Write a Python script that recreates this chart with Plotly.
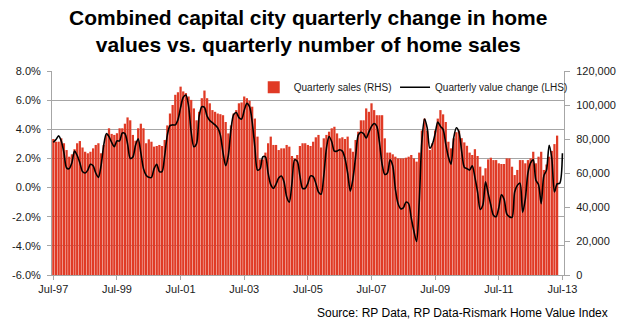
import plotly.graph_objects as go

# ---------------- data (monthly, Jul-97 .. Jul-13) ----------------
# Quarterly number of home sales (RHS), thousands
sales_k = [
    80, 78.4, 78.4, 80.4, 77.5, 73.5, 69.6, 71, 74, 77.5,
    78.8, 75, 72.5, 71.6, 72.5, 74.5, 76.5, 77.5, 71.6, 76.5,
    82.4, 86.3, 83, 82.4, 83.4, 86.3, 86.3, 89, 92.7, 91,
    82.4, 79, 86.3, 89, 86.3, 77.5, 79.8, 78.4, 75.5, 75.9,
    76.5, 75.9, 79.4, 88, 95, 100, 106, 107.5, 110.8, 108,
    107, 105, 103, 98, 91, 96, 104, 108.5, 104, 101,
    97, 96, 95, 94.6, 94, 90, 83.3, 88, 95, 97,
    101, 101.5, 105, 104, 102.5, 99, 92, 81.4, 68, 68,
    72, 77.5, 81.4, 76.5, 76.5, 73.5, 74.5, 74.5, 76.5, 75.5,
    70, 68.6, 70.6, 75.9, 77.5, 77.5, 76.5, 75.9, 78.4, 81,
    82.4, 75, 80.4, 82.4, 84.3, 86.3, 87.2, 83.3, 80.4, 81,
    80, 81.4, 74.5, 72.5, 79.4, 84.3, 91, 91, 98, 96,
    101, 97, 94, 94, 94, 80.4, 72, 72, 71, 69.6,
    68.6, 68.6, 68.6, 69, 69.6, 70.6, 68.6, 66.7, 72, 85,
    92, 85, 73.5, 77.5, 85, 92, 97, 94.5, 90, 78.4,
    74.5, 80.4, 84, 85, 80.5, 78, 76, 72, 70.6, 74,
    70, 63.7, 58.5, 62.8, 68, 69, 67.6, 67.6, 65.7, 65.3,
    65.3, 68.6, 68.6, 63.7, 58.8, 61.8, 67.6, 67.6, 65.7, 67.6,
    68.6, 72.5, 65.7, 69.6, 72.5, 61.8, 65, 69.6, 73, 77,
    82, None, None,
]

# Quarterly change in home values (LHS), percent
value_change = [
    3.1, 3.3, 3.55, 3.2, 2.4, 1.35, 1.3, 1.7, 2.5, 2.2,
    1.7, 1.1, 1.0, 1.2, 1.6, 1.5, 1.0, 0.7, 1.5, 2.9,
    3.7, 3.5, 3.1, 2.8, 3.2, 3.2, 3.75, 3.7, 3.0, 2.0,
    2.1, 2.9, 3.35, 2.4, 1.3, 0.85, 0.7, 0.7, 1.3, 1.6,
    1.1, 1.1, 2.2, 3.6, 4.25, 4.3, 4.3, 4.65, 5.5, 6.2,
    6.35, 5.6, 3.8, 2.8, 3.0, 4.9, 5.55, 5.5, 4.9, 4.6,
    4.45, 4.3, 4.1, 3.6, 2.4, 1.5, 2.2, 4.0, 5.0, 5.15,
    4.8, 4.7, 5.3, 5.78, 5.55, 4.5, 2.8, 1.2, 1.3, 2.1,
    2.1, 1.0, 0.2, -0.05, 0.24, 0.65, 0.79, 0.4, -0.63, -1.0,
    0.3, 1.9, 1.8, 0.8, -0.05, -0.05, 0.29, 0.8, 0.75, 0.3,
    -0.3, -0.45, 0.8, 2.69, 3.5, 3.15, 2.5, 2.5, 2.6, 2.5,
    2.0, 1.0, -0.25, 0.6, 2.1, 3.6, 3.8, 3.7, 3.4, 3.8,
    4.2, 4.4, 4.2, 3.1, 1.6, 0.9, 1.0, 1.9, 1.5, -0.1,
    -1.1, -1.45, -1.4, -1.0, -1.1, -2.1, -3.0, -3.7, -1.0, 3.2,
    4.7, 4.1, 2.7, 3.0, 3.7, 4.5, 4.2, 4.0, 3.0, 2.1,
    1.6, 3.4, 4.1, 3.8, 2.5, 1.4, 1.3, 1.2, 1.5, 0.7,
    -0.3, -1.5, -1.2, 0.4, -0.4, -1.2, -1.9, -2.0, -1.4, -0.5,
    -0.8, -1.8, -2.0, -2.05, -0.3, 0.15, 0.3, -1.7, -0.8, 1.0,
    1.7, 1.9, 0.5, 0.2, -1.1, 0.8, 1.2, 2.9, 2.0, -0.3,
    0.25, 0.3, 2.35,
]

month_index = list(range(len(value_change)))
sales = [None if v is None else v * 1000 for v in sales_k]

x_tick_vals = [0, 24, 48, 72, 96, 120, 144, 168, 192]
x_tick_text = ["Jul-97", "Jul-99", "Jul-01", "Jul-03", "Jul-05",
               "Jul-07", "Jul-09", "Jul-11", "Jul-13"]
left_tick_vals = [-6, -4, -2, 0, 2, 4, 6, 8]
left_tick_text = ["-6.0%", "-4.0%", "-2.0%", "0.0%", "2.0%", "4.0%", "6.0%", "8.0%"]
right_tick_vals = [0, 20000, 40000, 60000, 80000, 100000, 120000]

FONT = "Liberation Sans, Arial, sans-serif"
GRID = "#A6A6A6"

fig = go.Figure()
fig.add_trace(go.Bar(
    x=month_index, y=sales, name="Quarterly sales (RHS)",
    marker=dict(color="#E03A25", line=dict(width=0)),
    yaxis="y", legend="legend", showlegend=True,
))
fig.add_trace(go.Scatter(
    x=month_index, y=value_change, name="Quarterly value change (LHS)",
    mode="lines", line=dict(color="black", width=1.6, shape="spline", smoothing=0.8),
    yaxis="y2", legend="legend2", showlegend=True,
))

fig.update_layout(
    width=628, height=326,
    margin=dict(l=45, r=50, t=71, b=51),
    paper_bgcolor="white", plot_bgcolor="white",
    font=dict(family=FONT, size=11, color="#1a1a1a"),
    bargap=0.15,
    showlegend=True,
    xaxis=dict(
        range=[-0.5, 192.6], tickmode="array", tickvals=x_tick_vals, ticktext=x_tick_text,
        showgrid=False, showline=True, linecolor=GRID, linewidth=1, mirror=False,
        ticks="outside", ticklen=4, tickcolor=GRID, tickfont=dict(size=11, color="#1a1a1a"),
        zeroline=False,
    ),
    yaxis=dict(
        range=[0, 120000], side="right", tickmode="array", tickvals=right_tick_vals,
        tickformat=",d", showgrid=False, showline=True, linecolor=GRID, linewidth=1,
        ticks="outside", ticklen=5, tickcolor=GRID, ticklabelstandoff=4,
        tickfont=dict(size=11, color="#1a1a1a"), zeroline=False,
    ),
    yaxis2=dict(
        range=[-6, 8], overlaying="y", side="left", anchor="x",
        tickmode="array", tickvals=left_tick_vals, ticktext=left_tick_text,
        showgrid=True, gridcolor=GRID, gridwidth=1, showline=True, linecolor=GRID, linewidth=1,
        ticks="outside", ticklen=4, tickcolor=GRID, ticklabelstandoff=4,
        tickfont=dict(size=11, color="#1a1a1a"), zeroline=False,
    ),
    legend=dict(
        orientation="h", x=0.394, xanchor="left", y=0.92, yanchor="middle",
        bgcolor="rgba(255,255,255,0)", borderwidth=0, itemwidth=30,
        font=dict(family=FONT, size=10, color="#1a1a1a"), visible=True,
    ),
    legend2=dict(
        orientation="h", x=0.67, xanchor="left", y=0.92, yanchor="middle",
        bgcolor="rgba(255,255,255,0)", borderwidth=0, itemwidth=30,
        font=dict(family=FONT, size=10, color="#1a1a1a"), visible=True,
    ),
    annotations=[
        dict(
            text="<b>Combined capital city quarterly change in home<br>values vs. quarterly number of home sales</b>",
            xref="paper", yref="paper", x=0.5, y=1.195, xanchor="center", yanchor="middle",
            showarrow=False, align="center",
            font=dict(family=FONT, size=21, color="black"),
        ),
        dict(
            text="Source: RP Data, RP Data-Rismark Home Value Index",
            xref="paper", yref="paper", x=1.09, y=-0.186, xanchor="right", yanchor="middle",
            showarrow=False, font=dict(family=FONT, size=12, color="black"),
        ),
    ],
)

fig.write_html("out.html")
